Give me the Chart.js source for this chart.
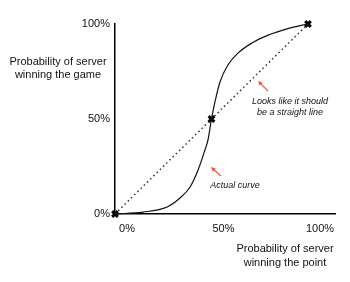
<!DOCTYPE html>
<html>
<head>
<meta charset="utf-8">
<script src="https://cdn.jsdelivr.net/npm/chart.js@4"></script>
<style>
  html, body { margin: 0; padding: 0; background: #fff; }
  #wrap { width: 350px; height: 282px; }
</style>
</head>
<body>
<div id="wrap"><canvas id="chart"></canvas></div>
<script>
// values (percent)
const pointProb = [0, 14.5, 27, 33.7, 38.9, 43, 46.6, 48.2, 50, 51.8, 54.4, 58.5, 63.7, 71, 79, 89.6, 100];
const gameProb  = [0, 1, 3.7, 8.4, 14.2, 23, 33.7, 39, 50, 59, 69.5, 78.4, 84.7, 90, 94, 97.6, 100];
const straightX = [0, 100];
const straightY = [0, 100];
const markX = [0, 50, 100];
const markY = [0, 50, 100];
const tickValues = [0, 50, 100];

const FONT = "'Liberation Sans', Arial, Helvetica, sans-serif";

function toXY(xs, ys) {
  return xs.map((x, i) => ({ x: x, y: ys[i] }));
}

// text + arrows that sit outside the scales
const notes = {
  id: "notes",
  afterDraw(chart) {
    const c = chart.ctx;
    c.save();
    c.fillStyle = "#111";
    c.textAlign = "center";
    c.textBaseline = "middle";
    c.font = "11px " + FONT;
    c.fillText("Probability of server", 58, 62);
    c.fillText("winning the game", 58, 75);
    c.fillText("Probability of server", 285, 249);
    c.fillText("winning the point", 285, 263);

    c.font = "italic 9px " + FONT;
    c.fillText("Looks like it should", 290, 101);
    c.fillText("be a straight line", 290, 112);
    c.fillText("Actual curve", 235, 185);

    arrow(c, 268, 91, 258, 81);
    arrow(c, 221, 176, 211, 167);
    c.restore();
  }
};

function arrow(c, x1, y1, x2, y2) {
  const a = Math.atan2(y2 - y1, x2 - x1);
  c.strokeStyle = "#f0553a";
  c.fillStyle = "#f0553a";
  c.lineWidth = 1.2;
  c.beginPath();
  c.moveTo(x1, y1);
  c.lineTo(x2 - 3 * Math.cos(a), y2 - 3 * Math.sin(a));
  c.stroke();
  c.beginPath();
  c.moveTo(x2, y2);
  c.lineTo(x2 - 5 * Math.cos(a - 0.45), y2 - 5 * Math.sin(a - 0.45));
  c.lineTo(x2 - 5 * Math.cos(a + 0.45), y2 - 5 * Math.sin(a + 0.45));
  c.closePath();
  c.fill();
}

const ctx = document.getElementById("chart").getContext("2d");
new Chart(ctx, {
  type: "scatter",
  data: {
    datasets: [
      {
        data: toXY(straightX, straightY),
        showLine: true,
        borderColor: "#333",
        borderWidth: 1.5,
        borderDash: [1.5, 3],
        pointRadius: 0,
      },
      {
        data: toXY(pointProb, gameProb),
        showLine: true,
        borderColor: "#111",
        borderWidth: 1.2,
        cubicInterpolationMode: "monotone",
        pointRadius: 0,
        clip: false,
      },
      {
        data: toXY(markX, markY),
        pointStyle: "crossRot",
        pointRadius: 4,
        borderColor: "#000",
        borderWidth: 3,
        clip: false,
      },
    ],
  },
  options: {
    responsive: true,
    maintainAspectRatio: false,
    animation: false,
    layout: { padding: { top: 24, right: 15, left: 0, bottom: 0 } },
    plugins: { legend: { display: false }, tooltip: { enabled: false } },
    scales: {
      x: {
        type: "linear",
        min: 0,
        max: 114,
        grid: { display: false, drawTicks: false },
        border: { color: "#000", width: 1.5 },
        afterBuildTicks: (s) => { s.ticks = tickValues.map((v) => ({ value: v })); },
        afterFit: (s) => { s.height = 68; },
        ticks: {
          padding: 8,
          labelOffset: 12,
          color: "#111",
          font: { family: FONT, size: 11 },
          callback: (v) => v + "%",
        },
      },
      y: {
        type: "linear",
        min: 0,
        max: 100,
        grid: { display: false, drawTicks: false },
        border: { color: "#000", width: 1.5 },
        afterBuildTicks: (s) => { s.ticks = tickValues.map((v) => ({ value: v })); },
        afterFit: (s) => { s.width = 115; },
        ticks: {
          padding: 5,
          color: "#111",
          font: { family: FONT, size: 11 },
          callback: (v) => v + "%",
        },
      },
    },
  },
  plugins: [notes],
});
</script>
</body>
</html>
